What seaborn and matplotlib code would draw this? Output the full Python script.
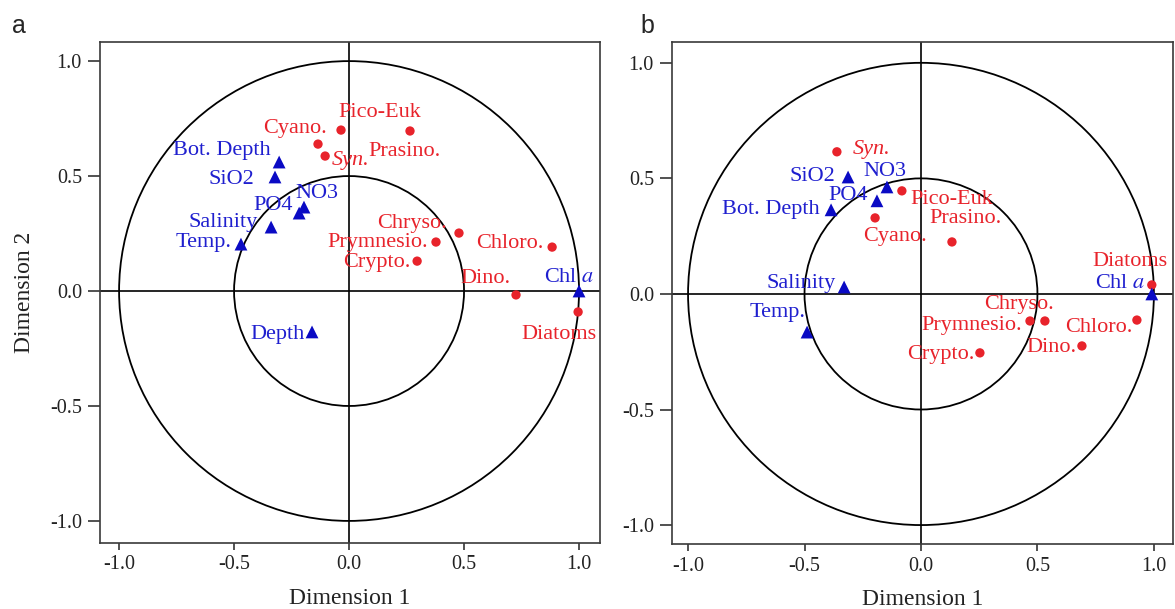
import matplotlib
matplotlib.use("Agg")
import matplotlib.pyplot as plt
from matplotlib.patches import Circle
import pandas as pd
import seaborn as sns

# ---------------- data ----------------
tick_values = [-1.0, -0.5, 0.0, 0.5, 1.0]
tick_labels = ["-1.0", "-0.5", "0.0", "0.5", "1.0"]
circle_radii = [0.5, 1.0]

phyto_names = ["Pico-Euk", "Prasino.", "Cyano.", "Syn.", "Chryso.",
               "Prymnesio.", "Crypto.", "Chloro.", "Dino.", "Diatoms"]

# panel a
a_phyto_x = [-0.035, 0.265, -0.135, -0.104, 0.478, 0.378, 0.296, 0.883, 0.726, 0.996]
a_phyto_y = [0.700, 0.696, 0.639, 0.587, 0.252, 0.213, 0.130, 0.191, -0.017, -0.091]
a_env_names = ["Bot. Depth", "SiO2", "NO3", "PO4", "Salinity", "Temp.", "Depth", "Chl a"]
a_env_x = [-0.304, -0.322, -0.196, -0.217, -0.339, -0.470, -0.161, 1.000]
a_env_y = [0.561, 0.496, 0.365, 0.339, 0.278, 0.204, -0.178, 0.000]

# panel b
b_phyto_x = [-0.082, 0.133, -0.197, -0.361, 0.532, 0.468, 0.253, 0.927, 0.691, 0.991]
b_phyto_y = [0.446, 0.225, 0.329, 0.615, -0.117, -0.117, -0.255, -0.113, -0.225, 0.039]
b_env_names = ["Bot. Depth", "SiO2", "NO3", "PO4", "Salinity", "Temp.", "Chl a"]
b_env_x = [-0.386, -0.313, -0.146, -0.189, -0.330, -0.489, 0.991]
b_env_y = [0.364, 0.506, 0.463, 0.403, 0.030, -0.165, 0.000]

# ---------------- style ----------------
sns.set_style("ticks")
plt.rcParams["font.family"] = ["Liberation Serif", "DejaVu Serif"]
plt.rcParams["mathtext.fontset"] = "stix"
plt.rcParams["axes.unicode_minus"] = False

RED = "#e8232b"
BLUE = "#1f1fcf"
BLUE_MK = "#0a0ac4"
SPINE = "#3a3a3a"

# label layout: name -> (ha, dx_px, dy_px)
layout_a = {
    "Pico-Euk": ("left", -3, 18), "Prasino.": ("center", -5, -21),
    "Cyano.": ("right", 9, 16), "Syn.": ("left", 7, -4),
    "Chryso.": ("right", -12, 10), "Prymnesio.": ("right", -8, 0),
    "Crypto.": ("right", -7, -1), "Chloro.": ("right", -9, 4),
    "Dino.": ("right", -6, 16), "Diatoms": ("right", 18, -23),
    "Bot. Depth": ("right", -9, 12), "SiO2": ("right", -21, -3),
    "NO3": ("left", -9, 14), "PO4": ("right", -6, 8),
    "Salinity": ("right", -13, 5), "Temp.": ("right", -9, 2),
    "Depth": ("right", -7, -3), "Chl a": ("right", 15, 14),
}
layout_b = {
    "Syn.": ("left", 16, 2), "Pico-Euk": ("left", 8, -9),
    "Cyano.": ("left", -12, -19), "Prasino.": ("left", -23, 23),
    "Diatoms": ("right", 16, 23), "Chryso.": ("right", 9, 16),
    "Prymnesio.": ("right", -8, -5), "Chloro.": ("right", -4, -7),
    "Dino.": ("right", -5, -2), "Crypto.": ("right", -5, -2),
    "SiO2": ("right", -13, 0), "NO3": ("center", -2, 15),
    "PO4": ("right", -9, 5), "Bot. Depth": ("right", -11, 0),
    "Salinity": ("right", -8, 4), "Temp.": ("right", -2, 20),
    "Chl a": ("right", -7, 10),
}


def build_frame(px, py, enames, ex, ey):
    rows = []
    for n, x, y in zip(phyto_names, px, py):
        rows.append(dict(name=n, x=x, y=y, kind="phyto"))
    for n, x, y in zip(enames, ex, ey):
        rows.append(dict(name=n, x=x, y=y, kind="env"))
    return pd.DataFrame(rows)


def draw_panel(ax, df, layout, xlim, ylim):
    for r in circle_radii:
        ax.add_patch(Circle((0, 0), r, fill=False, ec="black", lw=1.3, zorder=2))
    ax.axhline(0, color="black", lw=1.2, zorder=2)
    ax.axvline(0, color="black", lw=1.2, zorder=2)
    sns.scatterplot(data=df, x="x", y="y", hue="kind", style="kind", size="kind",
                    markers={"phyto": "o", "env": "^"},
                    palette={"phyto": RED, "env": BLUE_MK},
                    sizes={"phyto": 45, "env": 85},
                    linewidth=0, legend=False, zorder=3, ax=ax)
    for _, row in df.iterrows():
        ha, dx, dy = layout[row["name"]]
        color = RED if row["kind"] == "phyto" else BLUE
        text = row["name"]
        style = "normal"
        if text == "Chl a":
            text = r"Chl $\mathit{a}$"
        if text == "Syn.":
            style = "italic"
        ax.annotate(text, (row["x"], row["y"]), xytext=(dx, dy),
                    textcoords="offset pixels", ha=ha, va="center",
                    color=color, fontsize=16, fontstyle=style, zorder=4)
    ax.set_xlim(*xlim)
    ax.set_ylim(*ylim)
    ax.set_xticks(tick_values)
    ax.set_xticklabels(tick_labels)
    ax.set_yticks(tick_values)
    ax.set_yticklabels(tick_labels)
    ax.tick_params(axis="both", labelsize=14.5, colors="#222222", width=1.1)
    ax.tick_params(axis="x", length=5, pad=4)
    ax.tick_params(axis="y", length=9, pad=4)
    for s in ax.spines.values():
        s.set_visible(True)
        s.set_color(SPINE)
        s.set_linewidth(1.2)
    ax.set_xlabel("Dimension 1", fontsize=17, color="#222222")
    ax.set_ylabel("")


fig = plt.figure(figsize=(11.75, 6.09), dpi=100)
ax_a = fig.add_axes([0.0851, 0.1084, 0.4255, 0.8226])
ax_b = fig.add_axes([0.5719, 0.1067, 0.4264, 0.8243])

df_a = build_frame(a_phyto_x, a_phyto_y, a_env_names, a_env_x, a_env_y)
df_b = build_frame(b_phyto_x, b_phyto_y, b_env_names, b_env_x, b_env_y)

draw_panel(ax_a, df_a, layout_a, (-1.083, 1.091), (-1.096, 1.083))
draw_panel(ax_b, df_b, layout_b, (-1.069, 1.082), (-1.082, 1.090))

ax_a.set_ylabel("Dimension 2", fontsize=17, color="#222222")
ax_a.yaxis.set_label_coords(-0.13, 0.5)
ax_a.xaxis.set_label_coords(0.5, -0.09)
ax_b.xaxis.set_label_coords(0.5, -0.09)

fig.text(0.0102, 0.946, "a", fontsize=18, family="Liberation Sans", va="baseline")
fig.text(0.5447, 0.946, "b", fontsize=18, family="Liberation Sans", va="baseline")

fig.savefig("out.png", dpi=100)
